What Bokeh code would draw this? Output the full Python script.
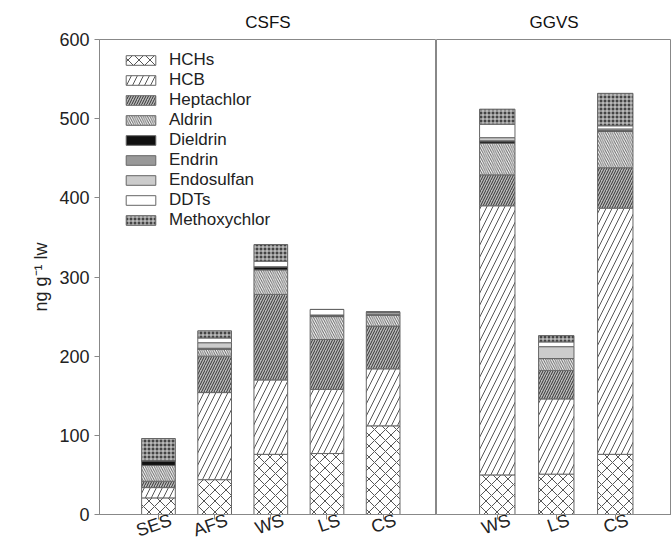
from bokeh.plotting import figure
from bokeh.models import ColumnDataSource, Range1d, FixedTicker, Legend, LegendItem
from bokeh.layouts import row
from bokeh.embed import file_html
from bokeh.resources import INLINE

panels = ["CSFS", "GGVS"]
sites_csfs = ["SES", "AFS", "WS", "LS", "CS"]
sites_ggvs = ["WS", "LS", "CS"]
compounds = ["HCHs", "HCB", "Heptachlor", "Aldrin", "Dieldrin",
             "Endrin", "Endosulfan", "DDTs", "Methoxychlor"]

# values: CSFS SES, AFS, WS, LS, CS | GGVS WS, LS, CS  (ng g-1 lw)
hchs         = [21, 44, 76, 77, 112, 50, 51, 76]
hcb          = [13, 110, 94, 81, 72, 340, 95, 311]
heptachlor   = [8, 46, 108, 63, 54, 39, 36, 51]
aldrin       = [20, 9, 31, 29, 14, 40, 15, 46]
dieldrin     = [6, 0, 4, 2, 0, 3, 0, 1]
endrin       = [0, 1, 0, 0, 1, 0, 0, 0]
endosulfan   = [0, 7, 0, 0, 2, 4, 15, 2]
ddts         = [0, 6, 7, 7, 1, 17, 6, 4]
methoxychlor = [28, 9, 21, 0, 0, 19, 8, 41]

series = [hchs, hcb, heptachlor, aldrin, dieldrin, endrin, endosulfan, ddts, methoxychlor]

fill_colors = ["white", "white", "#bbbbbb", "white", "#111111", "#999999", "#cccccc", "white", "#444444"]
hatch_patterns = ["diagonal_cross", "right_diagonal_line", "right_diagonal_line", "left_diagonal_line",
                  " ", " ", " ", " ", "cross"]
hatch_colors = ["#555555", "#555555", "#333333", "#666666", "#555555", "#555555", "#555555", "#555555", "#dddddd"]
hatch_scales = [11, 12, 5, 4.5, 12, 12, 12, 12, 4]
hatch_weights = [1, 1, 1, 1, 1, 1, 1, 1, 1]

FONT = "Liberation Sans"
n_left = len(sites_csfs)


def make_source(sl, sites):
    data = {"x": list(range(1, len(sites) + 1))}
    for name, vals in zip(compounds, series):
        data[name] = vals[sl]
    return ColumnDataSource(data)


def style(p, sites, label_shift):
    p.xgrid.visible = False
    p.ygrid.visible = False
    p.outline_line_color = "#888888"
    p.outline_line_width = 1
    p.title.text_font = FONT
    p.title.text_font_size = "17px"
    p.title.text_font_style = "normal"
    p.title.text_color = "#111111"
    p.title.align = "center"
    p.title.standoff = 16
    for ax in p.axis:
        ax.axis_line_color = "#888888"
        ax.major_tick_line_color = "#888888"
        ax.minor_tick_line_color = None
        ax.major_tick_in = 0
        ax.major_tick_out = 5
        ax.major_label_text_font = FONT
        ax.major_label_text_font_size = "18px"
        ax.major_label_text_color = "#222222"
        ax.axis_label_text_font = FONT
        ax.axis_label_text_font_size = "18px"
        ax.axis_label_text_font_style = "normal"
        ax.axis_label_text_color = "#222222"
    xa = p.xaxis[0]
    centers = list(range(1, len(sites) + 1))
    label_pos = [c + label_shift for c in centers]
    # labels sit on (invisible) major ticks, visible tick marks are the minor ticks at bar centres
    xa.ticker = FixedTicker(ticks=label_pos, minor_ticks=centers)
    xa.major_label_overrides = {lp: s for lp, s in zip(label_pos, sites)}
    xa.major_tick_line_color = None
    xa.major_tick_out = 2
    xa.minor_tick_line_color = "#888888"
    xa.minor_tick_in = 0
    xa.minor_tick_out = 5
    xa.major_label_orientation = 0.33
    xa.major_label_standoff = 0


def draw(p, src):
    return p.vbar_stack(compounds, x="x", width=0.6, source=src,
                        fill_color=fill_colors, hatch_pattern=hatch_patterns,
                        hatch_color=hatch_colors, hatch_scale=hatch_scales,
                        hatch_weight=hatch_weights,
                        line_color="#666666", line_width=1)


y_range = Range1d(0, 600)

p1 = figure(width=436, height=553, x_range=Range1d(-0.05, 5.95), y_range=y_range,
            output_backend="svg", toolbar_location=None, title=panels[0],
            min_border_left=99, min_border_right=0, min_border_top=39, min_border_bottom=30)
p2 = figure(width=235, height=553, x_range=Range1d(-0.03, 235 / 59 - 0.03), y_range=y_range,
            output_backend="svg", toolbar_location=None, title=panels[1], y_axis_location=None,
            min_border_left=0, min_border_right=0, min_border_top=39, min_border_bottom=30)

style(p1, sites_csfs, 0.22)
style(p2, sites_ggvs, 0.21)
p1.yaxis[0].ticker = FixedTicker(ticks=[0, 100, 200, 300, 400, 500, 600])
p1.yaxis[0].axis_label = "ng g\u207b\u00b9 lw"

r1 = draw(p1, make_source(slice(0, n_left), sites_csfs))
draw(p2, make_source(slice(n_left, None), sites_ggvs))

legend = Legend(items=[LegendItem(label=c, renderers=[r]) for c, r in zip(compounds, r1)],
                location=(23, 284), padding=0, spacing=0, glyph_width=37, glyph_height=12,
                label_height=20, label_standoff=10, label_text_font=FONT,
                label_text_font_size="17px", label_text_color="#222222",
                border_line_color=None, background_fill_alpha=0)
p1.add_layout(legend)

layout = row(p1, p2)
open("out.html", "w").write(file_html(layout, INLINE))
